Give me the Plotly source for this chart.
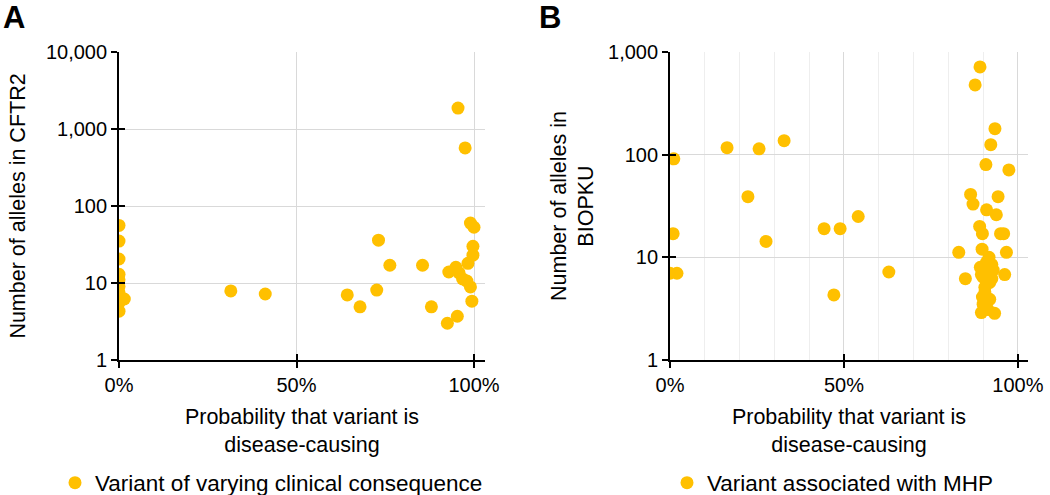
import plotly.graph_objects as go

# ---------------- data ----------------
cftr_prob = [0.0, 0.0, 0.0, 0.0, 0.0, 0.0, 0.0, 0.0, 0.0, 0.015,
             0.315, 0.412, 0.643, 0.679, 0.726, 0.731, 0.763, 0.855, 0.880,
             0.925, 0.929, 0.949, 0.953, 0.958, 0.968, 0.980, 0.983, 0.990,
             0.994, 0.997, 0.997, 0.990, 1.0, 0.955, 0.975]
cftr_alleles = [56, 35, 20.5, 13, 11, 9, 7.5, 5.5, 4.3, 6.2,
                7.9, 7.2, 7.0, 4.9, 8.1, 36, 17, 17, 4.9,
                3.0, 13.9, 16, 3.7, 13.5, 11.3, 10.6, 18, 8.9,
                5.8, 23, 30, 60, 53, 1870, 567]

pku_prob = [0.0, 0.02, 0.011, 0.009,
            0.164, 0.256, 0.328, 0.224, 0.276,
            0.443, 0.489, 0.541, 0.471, 0.629,
            0.891, 0.877, 0.934, 0.922, 0.908, 0.974,
            0.864, 0.871, 0.943, 0.910, 0.938, 0.890, 0.898, 0.950, 0.959,
            0.830, 0.967, 0.849, 0.962,
            0.897, 0.917, 0.892, 0.914, 0.929, 0.900, 0.919, 0.905, 0.898,
            0.919, 0.895, 0.933, 0.914, 0.910, 0.895, 0.925, 0.910, 0.905,
            0.900, 0.925]
pku_alleles = [7, 7, 91, 17,
               117, 114, 137, 39, 14.3,
               19, 19, 25, 4.3, 7.2,
               715, 478, 179, 125, 80, 71,
               41, 33, 39, 29, 26, 20, 17, 17, 17,
               11.2, 11.2, 6.2, 6.8,
               12, 10, 8, 7.5, 7.5, 6.4, 5.7, 5.1, 4.1,
               3.9, 2.9, 2.85, 3.1, 9, 6.8, 8.5, 5.5, 4.6,
               3.5, 6.2]

x_tickvals = [0, 0.5, 1.0]
x_ticktext = ["0%", "50%", "100%"]
cftr_y_tickvals = [1, 10, 100, 1000, 10000]
cftr_y_ticktext = ["1", "10", "100", "1,000", "10,000"]
pku_y_tickvals = [1, 10, 100, 1000]
pku_y_ticktext = ["1", "10", "100", "1,000"]

series_names = ["Variant of varying clinical consequence", "Variant associated with MHP"]
x_title = "Probability that variant is<br>disease-causing"
cftr_y_title = "Number of alleles in CFTR2"
pku_y_title = "Number of alleles in<br>BIOPKU"

# ---------------- style ----------------
W, H = 1050, 495
GOLD = "#FFC000"
FONT = "Liberation Sans, Arial, sans-serif"
GRID = "#D9D9D9"
MINOR = "#EEEEEE"
TITLE_SIZE = 21.5
LEGEND_SIZE = 22.5

def px_x(p):
    return p / W

def px_y(p):
    return 1 - p / H

A_dom_x = [px_x(119), px_x(485)]
B_dom_x = [px_x(670), px_x(1028)]
dom_y = [px_y(360), px_y(52)]

fig = go.Figure()
fig.add_trace(go.Scatter(x=cftr_prob, y=cftr_alleles, mode="markers",
                         name=series_names[0], xaxis="x", yaxis="y",
                         marker=dict(color=GOLD, size=13, line=dict(width=0)),
                         legend="legend", showlegend=True))
fig.add_trace(go.Scatter(x=pku_prob, y=pku_alleles, mode="markers",
                         name=series_names[1], xaxis="x2", yaxis="y2",
                         marker=dict(color=GOLD, size=13, line=dict(width=0)),
                         legend="legend2", showlegend=True))
# empty traces for overlay axes (inner halves of crossing ticks)
fig.add_trace(go.Scatter(x=[], y=[], xaxis="x3", yaxis="y3", showlegend=False, hoverinfo="skip"))
fig.add_trace(go.Scatter(x=[], y=[], xaxis="x4", yaxis="y4", showlegend=False, hoverinfo="skip"))

tickfont = dict(family=FONT, size=20, color="#000000")
axis_common = dict(showline=True, linecolor="#000000", linewidth=1.8,
                   ticks="outside", ticklen=6, tickwidth=1.8, tickcolor="#000000",
                   tickfont=tickfont, zeroline=False, automargin=False)
inner_common = dict(showline=False, showgrid=False, zeroline=False,
                    ticks="inside", ticklen=6, tickwidth=1.8, tickcolor="#000000",
                    showticklabels=False, automargin=False)
title_font = dict(family=FONT, size=TITLE_SIZE, color="#000000")

fig.update_layout(
    width=W, height=H,
    margin=dict(l=0, r=0, t=0, b=0, autoexpand=False),
    paper_bgcolor="white", plot_bgcolor="white",
    showlegend=True,
    font=dict(family=FONT, size=20, color="#000000"),
    xaxis=dict(domain=A_dom_x, range=[0, 1.031], anchor="y",
               tickmode="array", tickvals=x_tickvals, ticktext=x_ticktext,
               showgrid=True, gridcolor=GRID, gridwidth=1.3,
               title=dict(text=x_title, font=title_font, standoff=14),
               **axis_common),
    yaxis=dict(domain=dom_y, type="log", range=[0, 4], anchor="x",
               tickmode="array", tickvals=cftr_y_tickvals, ticktext=cftr_y_ticktext,
               showgrid=True, gridcolor=GRID, gridwidth=1.3,
               title=dict(text=cftr_y_title, font=title_font, standoff=14),
               **axis_common),
    xaxis2=dict(domain=B_dom_x, range=[0, 1.029], anchor="y2",
                tickmode="array", tickvals=x_tickvals, ticktext=x_ticktext,
                showgrid=True, gridcolor=GRID, gridwidth=1.3,
                minor=dict(tick0=0, dtick=0.1, showgrid=True, gridcolor=MINOR, gridwidth=1.3, ticks=""),
                title=dict(text=x_title, font=title_font, standoff=14),
                **axis_common),
    yaxis2=dict(domain=dom_y, type="log", range=[0, 3], anchor="x2",
                tickmode="array", tickvals=pku_y_tickvals, ticktext=pku_y_ticktext,
                showgrid=True, gridcolor=GRID, gridwidth=1.3,
                title=dict(text=pku_y_title, font=title_font, standoff=8),
                **axis_common),
    xaxis3=dict(overlaying="x", anchor="y3", range=[0, 1.031],
                tickmode="array", tickvals=x_tickvals, **inner_common),
    yaxis3=dict(overlaying="y", anchor="x3", type="log", range=[0, 4],
                tickmode="array", tickvals=cftr_y_tickvals, **inner_common),
    xaxis4=dict(overlaying="x2", anchor="y4", range=[0, 1.029],
                tickmode="array", tickvals=x_tickvals, **inner_common),
    yaxis4=dict(overlaying="y2", anchor="x4", type="log", range=[0, 3],
                tickmode="array", tickvals=pku_y_tickvals, **inner_common),
    legend=dict(x=px_x(55), y=px_y(483), xanchor="left", yanchor="middle",
                bgcolor="rgba(0,0,0,0)", font=dict(family=FONT, size=LEGEND_SIZE)),
    legend2=dict(x=px_x(667), y=px_y(483), xanchor="left", yanchor="middle",
                 bgcolor="rgba(0,0,0,0)", font=dict(family=FONT, size=LEGEND_SIZE)),
    annotations=[
        dict(text="<b>A</b>", x=px_x(14), y=px_y(17), xref="paper", yref="paper",
             xanchor="center", yanchor="middle", showarrow=False,
             font=dict(family=FONT, size=31, color="#000000")),
        dict(text="<b>B</b>", x=px_x(550), y=px_y(17), xref="paper", yref="paper",
             xanchor="center", yanchor="middle", showarrow=False,
             font=dict(family=FONT, size=31, color="#000000")),
    ],
)

# remove the page's default body margin so the 1050x495 figure fills the window
fig.write_html("out.html",
               config={"displayModeBar": False},
               post_script="document.body.style.margin='0';document.body.style.overflow='hidden';")
